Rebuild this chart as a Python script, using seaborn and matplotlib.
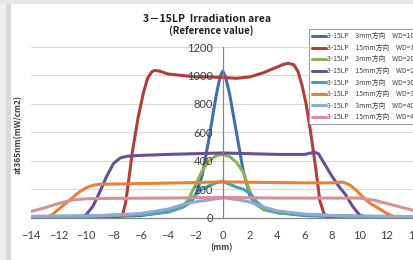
import numpy as np
import pandas as pd
import matplotlib
matplotlib.use("Agg")
import matplotlib.pyplot as plt
from matplotlib.patches import Rectangle
import seaborn as sns

# --- data (x in mm, irradiance in mW/cm2) ---
series_names = [
    "3-15LP\u30003mm方向\u3000WD=10",
    "3-15LP\u300015mm方向\u3000WD=10",
    "3-15LP\u30003mm方向\u3000WD=20",
    "3-15LP\u300015mm方向\u3000WD=20",
    "3-15LP\u30003mm方向\u3000WD=30",
    "3-15LP\u300015mm方向\u3000WD=30",
    "3-15LP\u30003mm方向\u3000WD=40",
    "3-15LP\u300015mm方向\u3000WD=40",
]
line_colors = ["#3F6FAE", "#AE3F3D", "#8DB255", "#6A4F92",
               "#3DA3B8", "#E8803A", "#8DAAD8", "#D49294"]

blue_x = [-14, -8, -6, -4, -3, -2.5, -2, -1.5, -1, -0.5, -0.2, 0, 0.2, 0.5, 1, 1.5, 2, 2.5, 3, 4, 6, 8, 14]
blue_y = [5, 8, 15, 40, 70, 100, 150, 300, 560, 850, 990, 1030, 990, 870, 600, 330, 150, 90, 60, 35, 15, 8, 5]

red_x = [-14, -8, -7.6, -7.3, -7.1, -6.9, -6.6, -6.2, -5.8, -5.5, -5.2, -5, -4.6, -4, -3, -2, -1, 0,
         1, 2, 3, 4, 4.5, 4.8, 5.2, 5.5, 5.8, 6.1, 6.4, 6.8, 7.1, 7.4, 7.7, 14]
red_y = [0, 0, 3, 30, 110, 250, 470, 700, 880, 980, 1025, 1035, 1030, 1010, 1000, 990, 990, 985,
         980, 990, 1020, 1060, 1080, 1085, 1075, 1030, 930, 800, 620, 350, 120, 30, 0, 0]

green_x = [-14, -10, -8, -6, -4, -3, -2.5, -2, -1.5, -1, -0.5, 0, 0.5, 1, 1.5, 2, 2.5, 3, 4, 6, 10, 14]
green_y = [5, 10, 15, 22, 40, 70, 130, 230, 330, 400, 435, 445, 430, 390, 320, 180, 90, 55, 35, 20, 10, 5]

purple_x = [-14, -10.5, -10, -9.5, -9, -8.5, -8, -7.5, -7, -6, -4, -2, 0, 2, 4, 6, 6.7,
            7, 7.5, 8, 8.5, 9, 9.5, 10, 10.5, 14]
purple_y = [0, 0, 20, 80, 180, 290, 380, 420, 432, 438, 445, 450, 455, 450, 445, 445, 460,
            450, 370, 290, 220, 160, 80, 20, 0, 0]

teal_x = [-14, -10, -6, -4, -3, -2.5, -2, -1.5, -1, -0.5, 0, 0.5, 1, 1.5, 2, 2.5, 3, 4, 6, 10, 14]
teal_y = [8, 12, 25, 45, 80, 110, 160, 200, 225, 245, 255, 235, 215, 200, 170, 110, 70, 40, 20, 10, 8]

orange_x = [-14, -13, -12.5, -12, -11.5, -11, -10.5, -10, -9.5, -9, -6, -3, 0, 3, 6, 8,
            8.8, 9.3, 9.8, 10.3, 10.8, 11.5, 12, 12.5, 13, 14]
orange_y = [0, 0, 20, 60, 100, 140, 180, 210, 228, 235, 240, 245, 252, 248, 245, 245,
            250, 230, 190, 140, 100, 60, 30, 10, 0, 0]

lblue_x = [-14, -10, -8, -6, -4, -3, -2, -1, 0, 1, 2, 3, 4, 6, 8, 10, 14]
lblue_y = [10, 12, 18, 30, 60, 90, 112, 125, 140, 128, 110, 75, 48, 25, 15, 10, 8]

pink_x = [-14, -13, -12, -11, -10, -8, -4, 0, 4, 8, 10, 11, 12, 13, 14]
pink_y = [45, 70, 100, 125, 133, 136, 138, 142, 138, 138, 138, 125, 100, 75, 50]

x_ticks = list(range(-14, 15, 2))
y_ticks = list(range(0, 1201, 200))

all_x = [blue_x, red_x, green_x, purple_x, teal_x, orange_x, lblue_x, pink_x]
all_y = [blue_y, red_y, green_y, purple_y, teal_y, orange_y, lblue_y, pink_y]

frames = []
for name, xs, ys in zip(series_names, all_x, all_y):
    frames.append(pd.DataFrame({"x": xs, "value": ys, "series": name}))
df = pd.concat(frames, ignore_index=True)

sns.set_style("white")
plt.rcParams["font.family"] = ["Lato", "DejaVu Sans"]
jp = ["Noto Sans CJK JP", "DejaVu Sans"]

fig = plt.figure(figsize=(4.14, 2.60), dpi=100)
fig.patch.set_facecolor("white")
# grey window frame of the screenshot
fig.patches.append(Rectangle((0, 0), 6 / 414, 1, transform=fig.transFigure,
                             facecolor="#EFEFEF", edgecolor="none", zorder=0))
fig.patches.append(Rectangle((6 / 414, 0), 5 / 414, 1, transform=fig.transFigure,
                             facecolor="#DADADA", edgecolor="none", zorder=0))
fig.patches.append(Rectangle((0, 1 - 4 / 260), 1, 4 / 260, transform=fig.transFigure,
                             facecolor="#E6E6E6", edgecolor="none", zorder=0))

ax = fig.add_axes([31.4 / 414, 1 - 217.7 / 260, (414.1 - 31.4) / 414, (217.7 - 47) / 260])
ax.set_facecolor("none")

for v in y_ticks[1:]:
    ax.axhline(v, color="#D9D9D9", lw=0.8, zorder=0)

sns.lineplot(data=df, x="x", y="value", hue="series", hue_order=series_names,
             palette=line_colors, estimator=None, sort=True, lw=2.2, ax=ax, zorder=2)

ax.set_xlim(-14, 14)
ax.set_ylim(0, 1200)
ax.set_xticks(x_ticks)
ax.set_yticks(y_ticks)
ax.set_axisbelow(False)
for s in ["top", "right"]:
    ax.spines[s].set_visible(False)
ax.spines["left"].set_position(("data", 0))
ax.spines["left"].set_color("#868686")
ax.spines["bottom"].set_color("#868686")
ax.spines["left"].set_linewidth(0.9)
ax.spines["bottom"].set_linewidth(0.9)
ax.tick_params(axis="y", length=0, pad=7, labelsize=8, labelcolor="#404040")
ax.tick_params(axis="x", length=0, pad=9, labelsize=8, labelcolor="#404040")

ax.set_xlabel("(mm)", fontsize=6, fontweight="bold", color="#404040", family=jp)
ax.xaxis.set_label_coords(0.497, -0.15)
ax.set_ylabel("at365nm(mW/cm2)", fontsize=6, fontweight="bold", color="#404040", family=jp)
ax.yaxis.set_label_coords(-0.022, 0.49)

fig.text(207.5 / 414, 1 - 19 / 260, "3－15LP  Irradiation area", ha="center", va="center",
         fontsize=7.5, fontweight="bold", family=jp, color="#202020")
fig.text(211 / 414, 1 - 31 / 260, "(Reference value)", ha="center", va="center",
         fontsize=7, fontweight="bold", family=jp, color="#202020")

leg = ax.legend(loc="upper left", bbox_to_anchor=(309.3 / 414, 1 - 29.3 / 260),
                bbox_transform=fig.transFigure, borderaxespad=0, frameon=True,
                fancybox=False, framealpha=1, edgecolor="#A0A0A0",
                prop={"family": jp, "size": 4.9}, handlelength=2.0,
                handletextpad=0.1, labelspacing=0.52, borderpad=0.45, title=None)
leg.get_frame().set_linewidth(0.8)
leg.set_zorder(5)
for t in leg.get_texts():
    t.set_color("#404040")

fig.savefig("out.png", dpi=100)
